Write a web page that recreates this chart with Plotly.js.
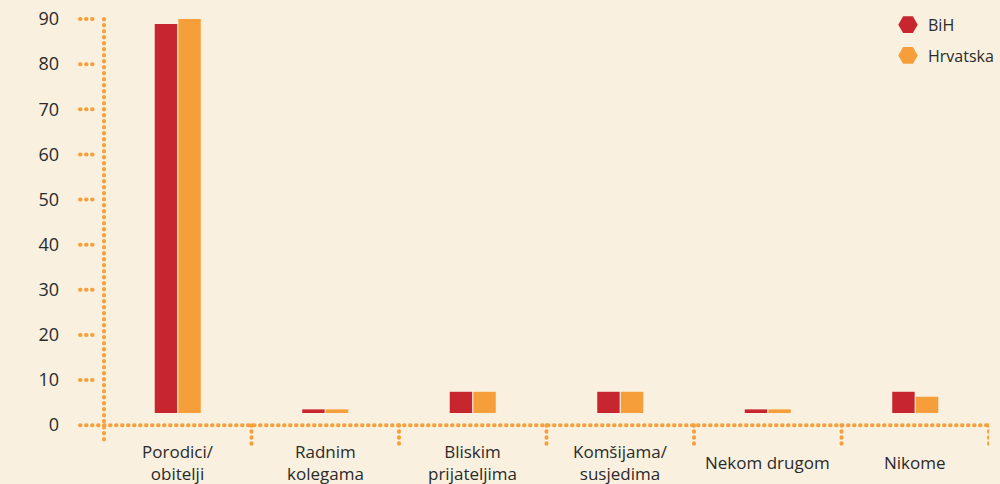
<!DOCTYPE html>
<html><head><meta charset="utf-8">
<script src="https://cdn.plot.ly/plotly-3.0.1.min.js"></script>
<style>
html,body{margin:0;padding:0;background:#f9f0df;}
#chart{width:1000px;height:484px;}
.shapelayer path{stroke-linecap:round !important;}
</style></head><body>
<div id="chart"></div>
<script>
const categories = ['Porodici/obitelji','Radnim kolegama','Bliskim prijateljima','Komšijama/susjedima','Nekom drugom','Nikome'];
const tickLabels = ['Porodici/<br>obitelji','Radnim<br>kolegama','Bliskim<br>prijateljima','Komšijama/<br>susjedima','Nekom drugom','Nikome'];
const seriesNames = ['BiH','Hrvatska'];
const bih = [88.9, 3.5, 7.4, 7.4, 3.5, 7.4];
const hrvatska = [90.0, 3.5, 7.4, 7.4, 3.5, 6.3];
const barBase = 2.7;
const yTicks = [0,10,20,30,40,50,60,70,80,90];

const RED = '#c8262f', ORANGE = '#f59e3a', DOT = '#f6a03c', TXT = '#2a2a2a';
const FONT = 'Open Sans, sans-serif';

function barTrace(name, vals, color){
  return {type:'bar', name:name, x:categories, y:vals.map(v=>v-barBase), base:barBase,
    marker:{color:color}, showlegend:false, hoverinfo:'skip'};
}
function legTrace(name, color){
  return {type:'scatter', mode:'markers', name:name, x:[null], y:[null],
    marker:{symbol:'hexagon2', size:16, color:color, line:{color:color, width:3}},
    legendgroup:name};
}
const data = [barTrace(seriesNames[0], bih, RED), barTrace(seriesNames[1], hrvatska, ORANGE),
  legTrace(seriesNames[0], RED), legTrace(seriesNames[1], ORANGE)];

const dotLine = {color:DOT, width:4, dash:'0.5px,5.5px'};
const shapes = [];
// y axis vertical dotted line
shapes.push({type:'line', xref:'paper', yref:'y', x0:0, x1:0, y0:90, y1:-4.3, line:dotLine});
// zero line
shapes.push({type:'line', xref:'paper', yref:'y', x0:-0.0271, x1:1.0034, y0:0, y1:0, line:dotLine});
// three-dot tick marks
yTicks.filter(t=>t>0).forEach(t=>{
  shapes.push({type:'line', xref:'paper', yref:'y', x0:-0.0271, x1:-0.0124, y0:t, y1:t, line:dotLine});
});
// category separators
categories.forEach((c,i)=>{
  shapes.push({type:'line', xref:'x', yref:'y', x0:i+0.5, x1:i+0.5, y0:0, y1:-4.3, line:dotLine});
});

const annotations = categories.map((c,i)=>({
  xref:'x', yref:'paper', x:c, y:-0.0295, yanchor:'middle', xanchor:'center',
  text:tickLabels[i], showarrow:false, font:{family:FONT, size:17, color:TXT}, align:'center'
}));

const layout = {
  width:1000, height:484,
  margin:{l:104, r:11, t:10, b:34, autoexpand:false},
  paper_bgcolor:'#f9f0df', plot_bgcolor:'#f9f0df',
  barmode:'group', bargap:0.68, bargroupgap:0.05,
  font:{family:FONT, color:TXT},
  xaxis:{type:'category', range:[-0.5,5.5], showticklabels:false, showgrid:false, zeroline:false, showline:false, ticks:''},
  yaxis:{range:[-5.5,92], tickvals:yTicks, ticktext:yTicks.map(String), showgrid:false, zeroline:false, showline:false,
    ticks:'', ticklabelstandoff:44, tickfont:{family:FONT, size:18, color:TXT}},
  showlegend:true,
  legend:{xref:'container', yref:'container', x:0.888, y:0.984, xanchor:'left', yanchor:'top',
    bgcolor:'rgba(0,0,0,0)', font:{family:FONT, size:16, color:TXT}, tracegroupgap:7},
  shapes:shapes,
  annotations:annotations
};
Plotly.newPlot('chart', data, layout, {displayModeBar:false, staticPlot:true});
</script>
</body></html>
